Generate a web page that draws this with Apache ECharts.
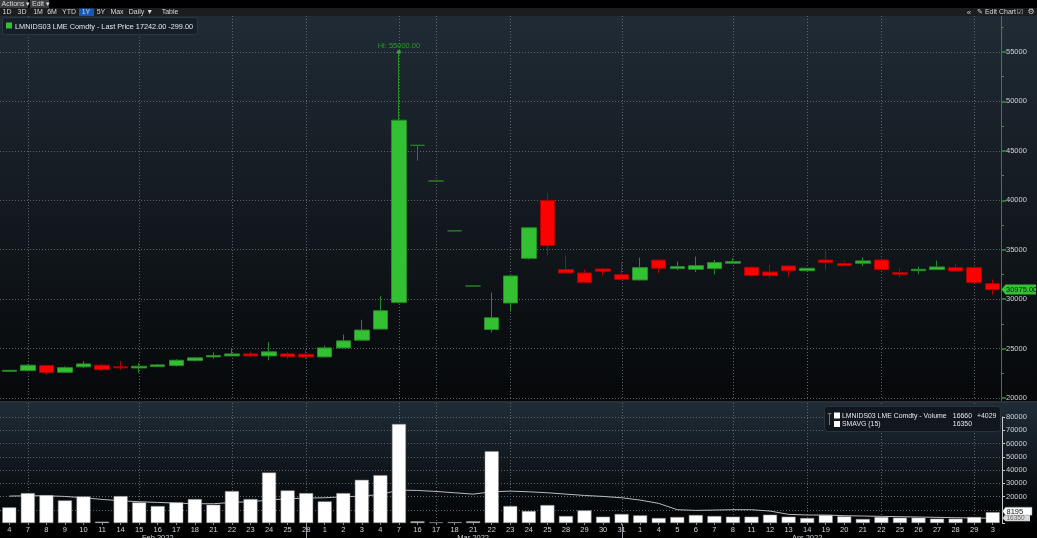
<!DOCTYPE html>
<html><head><meta charset="utf-8">
<script src="https://cdn.jsdelivr.net/npm/echarts@6/dist/echarts.min.js"></script>
<style>
html,body{margin:0;padding:0;background:#000;width:1037px;height:538px;overflow:hidden;}
#bgP{position:absolute;left:0;top:16px;width:1037px;height:385px;background:linear-gradient(#202b35,#06080a);}
#bgS{position:absolute;left:0;top:401px;width:1037px;height:2px;background:#2b3138;}
#bgV{position:absolute;left:0;top:403px;width:1037px;height:120px;background:linear-gradient(#1f2c37,#020304);}
#c{position:absolute;left:0;top:0;width:1037px;height:538px;}
</style>
</head><body>
<div id="bgP"></div><div id="bgS"></div><div id="bgV"></div>
<div id="c"></div>
<script>
// ---- data ----
const dates = [
 '2022-02-04','2022-02-07','2022-02-08','2022-02-09','2022-02-10','2022-02-11','2022-02-14','2022-02-15','2022-02-16','2022-02-17','2022-02-18','2022-02-21','2022-02-22','2022-02-23','2022-02-24','2022-02-25','2022-02-28',
 '2022-03-01','2022-03-02','2022-03-03','2022-03-04','2022-03-07','2022-03-16','2022-03-17','2022-03-18','2022-03-21','2022-03-22','2022-03-23','2022-03-24','2022-03-25','2022-03-28','2022-03-29','2022-03-30','2022-03-31',
 '2022-04-01','2022-04-04','2022-04-05','2022-04-06','2022-04-07','2022-04-08','2022-04-11','2022-04-12','2022-04-13','2022-04-14','2022-04-19','2022-04-20','2022-04-21','2022-04-22','2022-04-25','2022-04-26','2022-04-27','2022-04-28','2022-04-29',
 '2022-05-03'];
const openP = [22700,22770,23280,22600,23150,23320,23150,23040,23180,23280,23790,24160,24260,24460,24260,24460,24430,
 24160,25070,25850,26970,29670,45560,41950,36910,31330,26930,29610,34130,39990,33000,32650,33050,32480,
 31940,33950,33090,33020,33090,33630,33220,32750,33360,32880,33960,33600,33630,33970,32680,32880,32990,33190,33190,
 31570];
const closeP = [22800,23320,22570,23070,23450,22870,23050,23210,23350,23820,24060,24290,24460,24260,24670,24190,24160,
 25070,25780,26870,28830,48100,45560,41950,36910,31330,28120,32350,37220,35420,32650,31700,32820,32000,
 33190,33120,33290,33390,33700,33800,32380,32380,32880,33120,33700,33390,33870,32990,32510,33020,33260,32850,31670,
 30975];
const lowP = [22650,22710,22360,22560,23040,22710,22840,22540,23150,23180,23690,23960,24240,24160,23820,23960,23920,
 24100,25050,25800,26950,29540,44010,41950,36910,31330,26630,28760,34000,34440,32550,31700,32410,31900,
 31900,32610,32920,32740,32510,33600,32300,32110,32270,32850,32960,33350,33320,32950,32210,32510,32950,32800,31650,
 30450];
const highP = [22850,23420,23300,23210,23720,23450,23750,23520,23450,23920,24160,24630,24960,24700,25680,24630,24900,
 25300,26420,27910,30280,55000,45560,41950,36910,31330,30650,32350,37220,40700,34440,33000,33150,33770,
 34200,33950,33800,34300,33970,34130,33250,33460,33360,33150,35010,33820,34230,34000,33120,33290,33900,33530,33200,
 32000];
const volume = [11800,22560,21050,17040,20050,1000,20300,15540,12780,15540,18050,13790,24060,18050,38100,24560,22560,
 16290,22560,32580,36090,74690,1250,500,700,1250,54140,12780,9020,13530,5260,9520,4760,6770,
 5760,3760,4510,6020,5260,4760,4760,6270,4760,3760,6020,5010,3010,4510,4010,4010,3260,3260,4510,
 8195];
const smavg = [20300,20550,20550,20050,19050,17800,16800,16040,15540,15040,14540,14540,15540,16040,17300,18300,18800,
 19050,19800,20300,21550,24810,24560,23810,22810,21800,23560,24060,23560,22810,21800,20800,20050,19050,
 17300,14790,10030,9520,9770,10030,10030,9020,6520,6020,6020,5510,5260,5010,4760,4510,4260,4010,3760,
 3510];
const priceMin = 20000, priceMax = 55000, priceStep = 5000;
const volMin = 0, volMax = 80000, volStep = 10000;
const vGridIdx = [1,7,12,16,21,23,27,33,39,43,47,52];
const monthBoundIdx = [16,33];
const monthLabels = ['Feb 2022','Mar 2022','Apr 2022'];
const monthLabelIdx = [7.9,24.5,42.5];
const lastPriceLabel = '30975.00';
const lastVolLabel = '8195';
const smavgLabel = '16350';
const hiLabel = 'Hi: 55000.00';
const priceLegend = 'LMNIDS03 LME Comdty - Last Price 17242.00 -299.00';
const volLegend = ['LMNIDS03 LME Comdty - Volume','16660','+4029'];
const smaLegend = ['SMAVG (15)','16350'];
const toolButtons = ['1D','3D','1M','6M','YTD','1Y','5Y','Max','Daily \u25BC','Table'];

// ---- chart ----
const FONT = 'Liberation Sans';
const FS = 7.5;
const LBL = '#cfd2d6';
const DOT = '#5d636b';
const chart = echarts.init(document.getElementById('c'), null, {renderer:'canvas'});
const option = {
  backgroundColor: 'transparent',
  animation: false,
  textStyle: {fontFamily: FONT},
  grid: [
    {left: -4, right: 35, top: 52, height: 346},
    {left: -4, right: 35, top: 417, height: 106}
  ],
  xAxis: [
    {type:'category', gridIndex:0, data:dates, boundaryGap:true,
     axisLine:{show:false}, axisTick:{show:false}, axisLabel:{show:false}, splitLine:{show:false}},
    {type:'category', gridIndex:1, data:dates, boundaryGap:true,
     axisLine:{show:false},
     axisTick:{show:true, alignWithLabel:true, length:2, lineStyle:{color:'#8a8f96'}},
     axisLabel:{interval:0, color:LBL, fontSize:FS, fontFamily:FONT, margin:3,
       formatter: d => String(parseInt(d.slice(8),10))},
     splitLine:{show:false}}
  ],
  yAxis: [
    {type:'value', gridIndex:0, position:'right', min:priceMin, max:priceMax, interval:priceStep,
     axisLine:{show:false},
     axisTick:{show:true, length:4, lineStyle:{color:'#2f9a2f', width:1.5}},
     minorTick:{show:true, splitNumber:2, length:2, lineStyle:{color:'#2f9a2f', width:1}},
     axisLabel:{color:LBL, fontSize:FS, fontFamily:FONT, margin:4, formatter: v => String(v)},
     splitLine:{show:true, lineStyle:{color:DOT, type:[1,2], width:1}}},
    {type:'value', gridIndex:1, position:'right', min:volMin, max:volMax, interval:volStep,
     axisLine:{show:true, lineStyle:{color:'#c8c8c8', width:1}},
     axisTick:{show:true, length:3, lineStyle:{color:'#c8c8c8'}},
     axisLabel:{color:LBL, fontSize:FS, fontFamily:FONT, margin:4,
       formatter: v => (v <= 10000 ? '' : String(v))},
     splitLine:{show:true, showMinLine:false, lineStyle:{color:DOT, type:[1,2], width:1}}}
  ],
  series: [
    {type:'candlestick', xAxisIndex:0, yAxisIndex:0, barWidth:15,
     data: dates.map((d,i) => [openP[i], closeP[i], lowP[i], highP[i]]),
     itemStyle:{color:'#33c133', color0:'#ff0000', borderColor:'#268a26', borderColor0:'#b00000',
       borderColorDoji:'#2a7f2a', borderWidth:1},
     markPoint:{symbol:'circle', symbolSize:4, silent:true,
       data:[{coord:[21, highP[21]], itemStyle:{color:'#2fae2f'},
         label:{show:true, position:'top', distance:0, formatter:hiLabel, color:'#2c9a2c', fontSize:FS, fontFamily:FONT}}]}},
    {type:'line', xAxisIndex:1, yAxisIndex:1, data:smavg, symbol:'none', z:1,
     lineStyle:{color:'#b8bcc0', width:1}},
    {type:'bar', xAxisIndex:1, yAxisIndex:1, data:volume, barWidth:14, z:2,
     itemStyle:{color:'#ffffff', borderColor:'#8c8c8c', borderWidth:0.5}}
  ]
};
chart.setOption(option);

// ---- overlay elements positioned with the chart's own scales ----
const px = i => chart.convertToPixel({xAxisIndex:1}, i);
const pyP = v => chart.convertToPixel({yAxisIndex:0}, v);
const pyV = v => chart.convertToPixel({yAxisIndex:1}, v);
const band = px(1) - px(0);
const axisX = px(dates.length - 1) + band / 2;
const g = [];
const txt = (t, x, y, fill, opts) => ({type:'text', x:x, y:y, z:100, silent:true,
  style:{text:t, fill:fill, font:(opts&&opts.font)||(FS+'px '+FONT), align:(opts&&opts.align)||'left', verticalAlign:'middle'}});

// vertical dotted grid lines
vGridIdx.forEach(i => {
  const x = Math.round(px(i)) + 0.5;
  g.push({type:'line', z:0, silent:true, shape:{x1:x, y1:16, x2:x, y2:400}, style:{stroke:DOT, lineDash:[1,2], lineWidth:1}});
  g.push({type:'line', z:0, silent:true, shape:{x1:x, y1:403, x2:x, y2:523}, style:{stroke:DOT, lineDash:[1,2], lineWidth:1}});
});
// month boundary ticks and labels
monthBoundIdx.forEach(i => {
  const x = Math.round(px(i)) + 0.5;
  g.push({type:'line', z:5, silent:true, shape:{x1:x, y1:524, x2:x, y2:538}, style:{stroke:'#9a9ea4', lineWidth:1}});
});
monthLabels.forEach((m, k) => g.push(txt(m, px(monthLabelIdx[k]), 537.5, LBL, {align:'center'})));

// price axis line (full panel height) and extra minor tick above max
const ax = Math.round(axisX) - 0.5;
g.push({type:'line', z:50, silent:true, shape:{x1:ax, y1:16, x2:ax, y2:401}, style:{stroke:'#2a8a2a', lineWidth:1}});
const y575 = Math.round(pyP(priceMax + priceStep/2)) + 0.5;
g.push({type:'line', z:50, silent:true, shape:{x1:ax, y1:y575, x2:ax+2, y2:y575}, style:{stroke:'#2f9a2f', lineWidth:1}});

// last price label
const yl = pyP(closeP[closeP.length-1]);
g.push({type:'polygon', z:90, silent:true, shape:{points:[[ax,yl],[ax+4,yl-5],[1036,yl-5],[1036,yl+5],[ax+4,yl+5]]}, style:{fill:'#36c036'}});
g.push(txt(lastPriceLabel, ax+4.5, yl+0.5, '#06200a'));

// volume value labels
const ys = pyV(volume[volume.length-1]) + 5;
g.push({type:'polygon', z:88, silent:true, shape:{points:[[ax+1,ys+1],[ax+4,ys-3],[1030,ys-3],[1030,ys+4],[ax+4,ys+4]]}, style:{fill:'#d8d8d8'}});
g.push(txt(smavgLabel, ax+5, ys+1, '#6a6a6a', {font:'6.5px '+FONT}));
const yv = pyV(volume[volume.length-1]) - 1;
g.push({type:'polygon', z:92, silent:true, shape:{points:[[ax+1,yv],[ax+4,yv-4],[1032,yv-4],[1032,yv+4],[ax+4,yv+4]]}, style:{fill:'#ffffff', stroke:'#888', lineWidth:0.5}});
g.push(Object.assign(txt(lastVolLabel, ax+5, yv+0.5, '#111'), {z:93}));

// price legend box
const LF = '7.3px ' + FONT;
g.push({type:'rect', z:95, silent:true, shape:{x:2.5, y:17.5, width:195, height:17, r:3}, style:{fill:'#161f28', stroke:'#2c3742', lineWidth:1}});
g.push({type:'rect', z:96, silent:true, shape:{x:6, y:22.5, width:6, height:6}, style:{fill:'#33c133'}});
g.push(txt(priceLegend, 15, 26.5, '#e4e6e8', {font:LF}));

// volume legend box
const VF = '6.9px ' + FONT;
g.push({type:'rect', z:95, silent:true, shape:{x:824.5, y:406.5, width:176, height:25, r:3}, style:{fill:'#10171e', stroke:'#2a333c', lineWidth:1}});
g.push({type:'line', z:96, silent:true, shape:{x1:829.5, y1:413, x2:829.5, y2:425}, style:{stroke:'#777', lineWidth:1}});
g.push({type:'line', z:96, silent:true, shape:{x1:827.5, y1:413.5, x2:831.5, y2:413.5}, style:{stroke:'#777', lineWidth:1}});
g.push({type:'rect', z:96, silent:true, shape:{x:834, y:412.5, width:6, height:6}, style:{fill:'#ffffff'}});
g.push({type:'rect', z:96, silent:true, shape:{x:834, y:421, width:6, height:6}, style:{fill:'#ffffff'}});
g.push(txt(volLegend[0], 842, 416, '#e4e6e8', {font:VF}));
g.push(txt(volLegend[1], 972, 416, '#e4e6e8', {font:VF, align:'right'}));
g.push(txt(volLegend[2], 977, 416, '#e4e6e8', {font:VF}));
g.push(txt(smaLegend[0], 842, 424.5, '#e4e6e8', {font:VF}));
g.push(txt(smaLegend[1], 972, 424.5, '#e4e6e8', {font:VF, align:'right'}));

// toolbar
g.push({type:'rect', z:90, silent:true, shape:{x:0, y:0, width:1037, height:8}, style:{fill:'#000'}});
g.push({type:'rect', z:90, silent:true, shape:{x:0, y:8, width:1037, height:8}, style:{fill:'#1c1d1f'}});
g.push({type:'rect', z:91, silent:true, shape:{x:0, y:0, width:28, height:8}, style:{fill:'#3a3b3d'}});
g.push({type:'rect', z:91, silent:true, shape:{x:30, y:0, width:19, height:8}, style:{fill:'#3a3b3d'}});
g.push(txt('Actions \u25BE', 1.5, 4.2, '#d8d8d8', {font:'7px '+FONT}));
g.push(txt('Edit \u25BE', 32, 4.2, '#d8d8d8', {font:'7px '+FONT}));
const btnX = [7,22,38,52,69,86,101,117,141,170];
g.push({type:'rect', z:91, silent:true, shape:{x:79, y:8.5, width:15, height:7.5}, style:{fill:'#1658b8'}});
toolButtons.forEach((b, k) => g.push(txt(b, btnX[k], 12.3, '#d4d6d8', {font:'7px '+FONT, align:'center'})));
g.push(txt('\u00AB', 969, 12.3, '#c8c8c8', {font:'8px '+FONT, align:'center'}));
g.push(txt('\u270E Edit Chart', 977, 12.3, '#d4d6d8', {font:'7px '+FONT}));
g.push(txt('\u2611', 1020, 12.3, '#c8c8c8', {font:'7px DejaVu Sans', align:'center'}));
g.push(txt('\u2699', 1031, 12.3, '#c8c8c8', {font:'8px DejaVu Sans', align:'center'}));

chart.setOption({graphic: g});
</script>
</body></html>
